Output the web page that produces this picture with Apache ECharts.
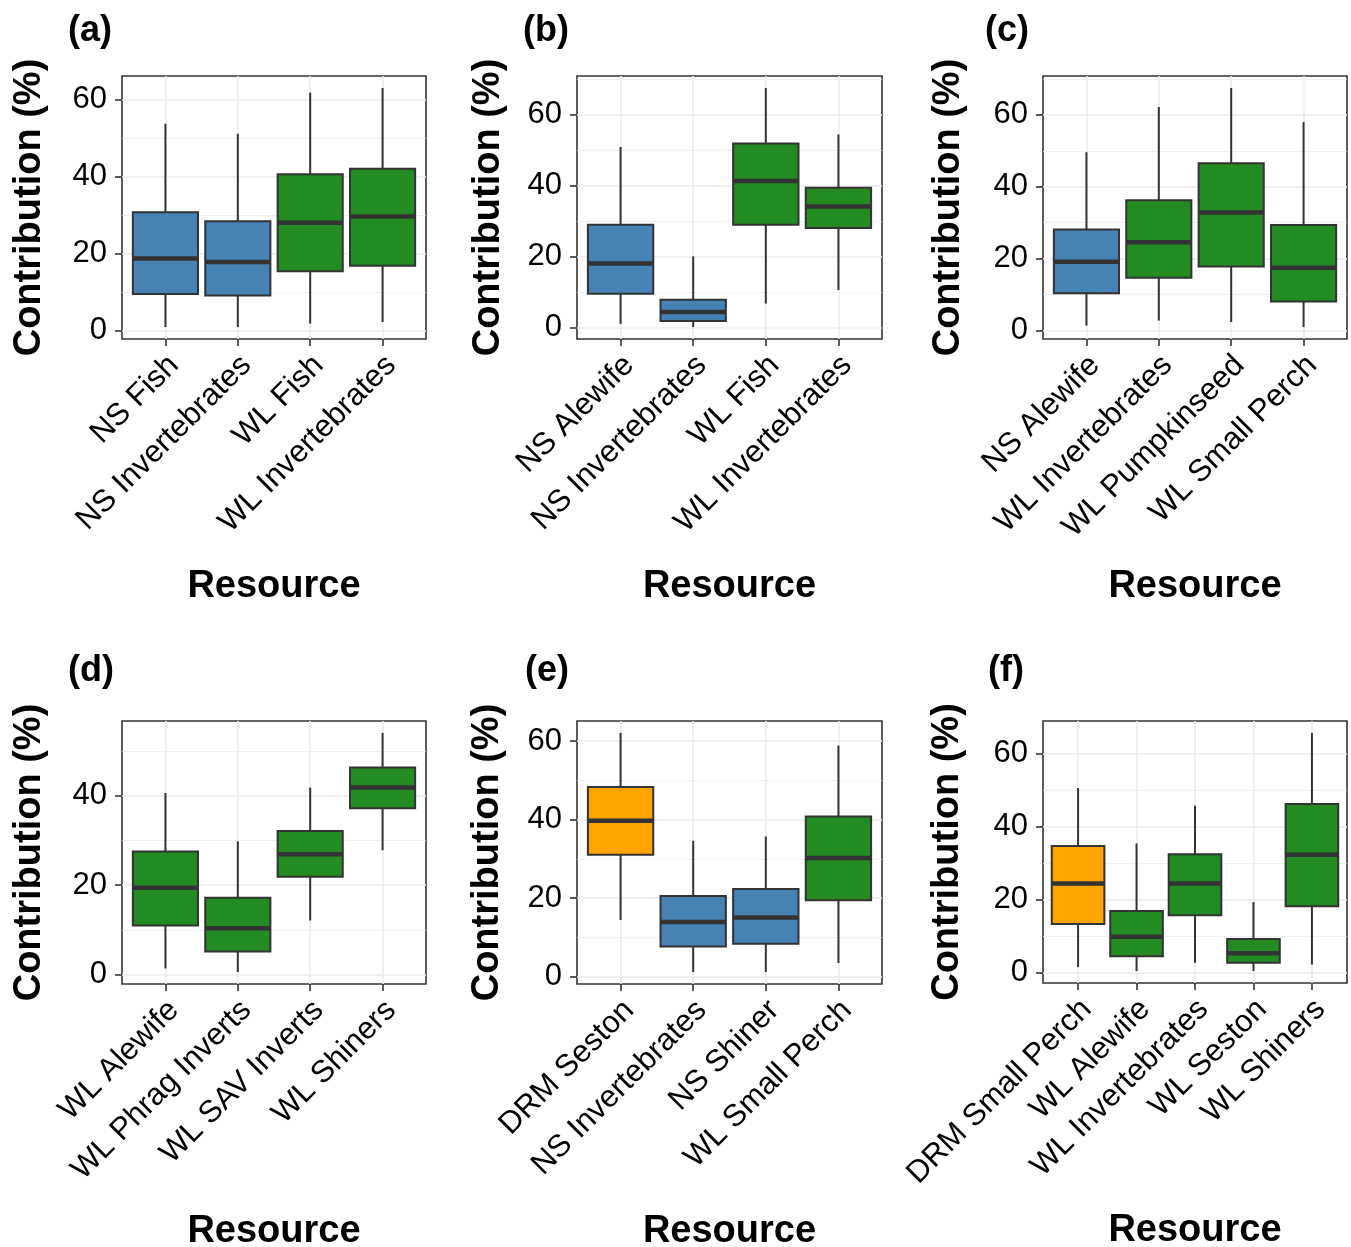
<!DOCTYPE html>
<html><head><meta charset="utf-8">
<script src="https://cdn.jsdelivr.net/npm/echarts@6/dist/echarts.min.js"></script>
<style>html,body{margin:0;padding:0;background:#fff}#chart{width:1351px;height:1247px}</style>
</head><body><div id="chart"></div>
<script>
// ---- data: each box = [lower whisker, Q1, median, Q3, upper whisker] ----
const catsA = ['NS Fish', 'NS Invertebrates', 'WL Fish', 'WL Invertebrates'];
const boxesA = [[1.0, 9.6, 18.8, 30.8, 53.8], [1.0, 9.2, 17.9, 28.5, 51.2], [1.9, 15.5, 28.1, 40.7, 61.9], [2.3, 16.9, 29.7, 42.1, 63.1]];
const catsB = ['NS Alewife', 'NS Invertebrates', 'WL Fish', 'WL Invertebrates'];
const boxesB = [[1.1, 9.6, 18.1, 29.0, 50.9], [0.2, 1.9, 4.4, 7.9, 20.1], [6.8, 29.0, 41.3, 51.9, 67.5], [10.6, 28.1, 34.1, 39.4, 54.4]];
const catsC = ['NS Alewife', 'WL Invertebrates', 'WL Pumpkinseed', 'WL Small Perch'];
const boxesC = [[1.3, 10.3, 19.1, 28.1, 49.6], [2.7, 14.6, 24.5, 36.2, 62.2], [2.3, 17.8, 32.8, 46.5, 67.5], [0.9, 8.0, 17.4, 29.3, 58.0]];
const catsD = ['WL Alewife', 'WL Phrag Inverts', 'WL SAV Inverts', 'WL Shiners'];
const boxesD = [[1.4, 11.0, 19.4, 27.5, 40.6], [0.6, 5.2, 10.4, 17.2, 29.8], [12.1, 21.9, 26.9, 32.1, 41.8], [27.8, 37.2, 41.8, 46.3, 54.0]];
const catsE = ['DRM Seston', 'NS Invertebrates', 'NS Shiner', 'WL Small Perch'];
const boxesE = [[14.4, 31.0, 39.7, 48.3, 62.1], [1.1, 7.6, 13.9, 20.5, 34.6], [1.1, 8.3, 15.0, 22.3, 35.7], [3.4, 19.4, 30.2, 40.8, 58.9]];
const catsF = ['DRM Small Perch', 'WL Alewife', 'WL Invertebrates', 'WL Seston', 'WL Shiners'];
const boxesF = [[1.5, 13.3, 24.4, 34.7, 50.6], [0.4, 4.5, 9.8, 16.9, 35.4], [2.7, 15.7, 24.4, 32.4, 45.7], [0.4, 2.7, 5.3, 9.2, 19.3], [2.2, 18.2, 32.3, 46.2, 65.7]];
const panelLabels = ['(a)', '(b)', '(c)', '(d)', '(e)', '(f)'];
const yTickValues = [0, 20, 40, 60];
const xTitle = 'Resource';
const yTitle = 'Contribution (%)';
const groupColors = { NS: '#4682B4', WL: '#228B22', DRM: '#FFA500' };

// ---- layout (positions only) ----
const layout = [
  { left: 122, top: 76, width: 304, height: 263, labLeft: 68, labTop: 13, yGap: 73 },
  { left: 577, top: 76, width: 305, height: 263, labLeft: 523, labTop: 13, yGap: 69 },
  { left: 1043, top: 76, width: 304, height: 263, labLeft: 985, labTop: 13, yGap: 75 },
  { left: 122, top: 721, width: 304, height: 263, labLeft: 68, labTop: 653, yGap: 73 },
  { left: 577, top: 721, width: 305, height: 263, labLeft: 525, labTop: 653, yGap: 70 },
  { left: 1043, top: 721, width: 304, height: 262, labLeft: 988, labTop: 653, yGap: 76 }
];
const panels = [[catsA, boxesA], [catsB, boxesB], [catsC, boxesC], [catsD, boxesD], [catsE, boxesE], [catsF, boxesF]];

const FONT = 'Liberation Sans, Arial, Helvetica, sans-serif';
const INK = '#333333';
const GRID = '#ebebeb';

function makeRender(cats) {
  return function (params, api) {
    const x = api.value(0);
    const pLow = api.coord([x, api.value(1)]);
    const pQ1 = api.coord([x, api.value(2)]);
    const pMed = api.coord([x, api.value(3)]);
    const pQ3 = api.coord([x, api.value(4)]);
    const pHigh = api.coord([x, api.value(5)]);
    const xl = api.coord([x - 0.45, 0])[0];
    const xr = api.coord([x + 0.45, 0])[0];
    const cx = pLow[0];
    const color = groupColors[cats[params.dataIndex].split(' ')[0]];
    return {
      type: 'group',
      children: [
        { type: 'line', shape: { x1: cx, y1: pHigh[1], x2: cx, y2: pQ3[1] }, style: { stroke: INK, lineWidth: 2 } },
        { type: 'line', shape: { x1: cx, y1: pQ1[1], x2: cx, y2: pLow[1] }, style: { stroke: INK, lineWidth: 2 } },
        { type: 'rect', shape: { x: xl, y: pQ3[1], width: xr - xl, height: pQ1[1] - pQ3[1] }, style: { fill: color, stroke: INK, lineWidth: 2 } },
        { type: 'line', shape: { x1: xl, y1: pMed[1], x2: xr, y2: pMed[1] }, style: { stroke: INK, lineWidth: 4.5 } }
      ]
    };
  };
}

const option = { animation: false, backgroundColor: '#fff', title: [], grid: [], xAxis: [], yAxis: [], series: [] };

panels.forEach(function (p, i) {
  const cats = p[0], boxes = p[1], L = layout[i];
  const lo = Math.min.apply(null, boxes.map(b => b[0]));
  const hi = Math.max.apply(null, boxes.map(b => b[4]));
  const span = hi - lo;
  const yMin = lo - 0.05 * span, yMax = hi + 0.05 * span;
  const xVals = cats.map((c, k) => k + 1);
  const yVals = yTickValues.filter(v => v >= yMin && v <= yMax);

  option.title.push({ text: panelLabels[i], left: L.labLeft, top: L.labTop, padding: 0,
    textStyle: { fontFamily: FONT, fontSize: 36, fontWeight: 'bold', color: '#000' } });

  option.grid.push({ left: L.left, top: L.top, width: L.width, height: L.height, show: true,
    backgroundColor: '#fff', borderColor: INK, borderWidth: 1.6, outerBoundsMode: 'none', containLabel: false });

  option.xAxis.push({
    type: 'value', gridIndex: i, position: 'bottom', min: 0.4, max: cats.length + 0.6, minInterval: 1, maxInterval: 1,
    axisLine: { show: false, onZero: false },
    axisTick: { show: true, inside: false, customValues: xVals, length: 7, lineStyle: { color: INK, width: 1.6 } },
    axisLabel: { customValues: xVals, formatter: v => cats[Math.round(v) - 1] || '', rotate: 45,
      interval: 0, showMinLabel: true, showMaxLabel: true, hideOverlap: false,
      align: 'right', verticalAlign: 'top', lineHeight: 24, margin: 13,
      fontFamily: FONT, fontSize: 31, color: '#000' },
    splitLine: { show: true, lineStyle: { color: GRID, width: 1.6 } },
    name: xTitle, nameLocation: 'middle', nameGap: 229, nameMoveOverlap: false,
    nameTextStyle: { fontFamily: FONT, fontSize: 38, fontWeight: 'bold', color: '#000' }
  });

  option.yAxis.push({
    type: 'value', gridIndex: i, position: 'left', min: yMin, max: yMax, minInterval: 20, maxInterval: 20,
    axisLine: { show: false, onZero: false },
    axisTick: { show: true, inside: false, customValues: yVals, length: 7, lineStyle: { color: INK, width: 1.6 } },
    axisLabel: { customValues: yVals, margin: 15, fontFamily: FONT, fontSize: 31, color: '#000' },
    splitLine: { show: true, lineStyle: { color: GRID, width: 1.6 } },
    minorTick: { show: false, splitNumber: 2 },
    minorSplitLine: { show: true, lineStyle: { color: GRID, width: 0.8 } },
    name: yTitle, nameLocation: 'middle', nameRotate: 90, nameGap: L.yGap, nameMoveOverlap: false,
    nameTextStyle: { fontFamily: FONT, fontSize: 38, fontWeight: 'bold', color: '#000' }
  });

  option.series.push({
    type: 'custom', xAxisIndex: i, yAxisIndex: i, silent: true,
    encode: { x: 0, y: [1, 2, 3, 4, 5] },
    data: boxes.map((b, k) => [k + 1].concat(b)),
    renderItem: makeRender(cats)
  });
});

const chart = echarts.init(document.getElementById('chart'), null, { renderer: 'canvas' });
chart.setOption(option);
</script>
</body></html>
